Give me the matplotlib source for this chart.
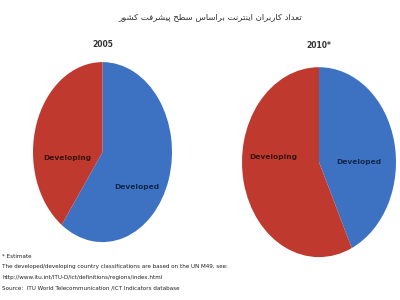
import matplotlib
matplotlib.use('Agg')
import matplotlib.pyplot as plt
from matplotlib import font_manager

# data
categories = ['Developed', 'Developing']
share_2005 = [60, 40]
share_2010 = [43, 57]
years = ['2005', '2010*']
title_fa = 'تعداد کاربران اینترنت براساس سطح پیشرفت کشور'
notes = [
    '* Estimate',
    'The developed/developing country classifications are based on the UN M49, see:',
    'http://www.itu.int/ITU-D/ict/definitions/regions/index.html',
    'Source:  ITU World Telecommunication /ICT Indicators database',
]

colors = ['#3d72c2', '#c0392f']
label_colors = ['#14284b', '#3a1410']

# matplotlib does not shape arabic script, so pick presentation forms by hand
FORMS = {
    'ا': ('\uFE8D', '\uFE8E', None, None),
    'ب': ('\uFE8F', '\uFE90', '\uFE91', '\uFE92'),
    'پ': ('\uFB56', '\uFB57', '\uFB58', '\uFB59'),
    'ت': ('\uFE95', '\uFE96', '\uFE97', '\uFE98'),
    'ح': ('\uFEA1', '\uFEA2', '\uFEA3', '\uFEA4'),
    'د': ('\uFEA9', '\uFEAA', None, None),
    'ر': ('\uFEAD', '\uFEAE', None, None),
    'س': ('\uFEB1', '\uFEB2', '\uFEB3', '\uFEB4'),
    'ش': ('\uFEB5', '\uFEB6', '\uFEB7', '\uFEB8'),
    'ط': ('\uFEC1', '\uFEC2', '\uFEC3', '\uFEC4'),
    'ع': ('\uFEC9', '\uFECA', '\uFECB', '\uFECC'),
    'ف': ('\uFED1', '\uFED2', '\uFED3', '\uFED4'),
    'ک': ('\uFB8E', '\uFB8F', '\uFB90', '\uFB91'),
    'ن': ('\uFEE5', '\uFEE6', '\uFEE7', '\uFEE8'),
    'و': ('\uFEED', '\uFEEE', None, None),
    'ی': ('\uFBFC', '\uFBFD', '\uFBFE', '\uFBFF'),
}


def joins_next(ch):
    return ch in FORMS and FORMS[ch][2] is not None


def shape(text):
    out = []
    for i, ch in enumerate(text):
        if ch not in FORMS:
            out.append(ch)
            continue
        prev = text[i - 1] if i > 0 else ''
        nxt = text[i + 1] if i + 1 < len(text) else ''
        p = joins_next(prev)
        n = joins_next(ch) and nxt in FORMS
        iso, fin, ini, med = FORMS[ch]
        if p and n:
            out.append(med)
        elif p:
            out.append(fin)
        elif n:
            out.append(ini)
        else:
            out.append(iso)
    return ''.join(reversed(out))


# narrow font for the in-pie labels if there is one
names = {f.name for f in font_manager.fontManager.ttflist}
narrow = 'Liberation Sans Narrow' if 'Liberation Sans Narrow' in names else 'DejaVu Sans'
label_size = 6.5 if narrow != 'DejaVu Sans' else 5.4

fig = plt.figure(figsize=(4, 3), dpi=100)
fig.patch.set_facecolor('white')

fig.text(0.525, 0.943, shape(title_fa), ha='center', va='center',
         fontsize=6.1, color='#333333', family='DejaVu Sans')

# axes boxes in figure fractions, pies are stretched to fill them
boxes = [[0.0825, 0.193, 0.3475, 0.600], [0.605, 0.143, 0.385, 0.633]]
shares = [share_2005, share_2010]
# label spots inside each pie (axes data units)
spots = [
    [(0.50, -0.39), (-0.51, -0.06)],
    [(0.52, 0.00), (-0.60, 0.05)],
]
title_y = [1.20, 1.23]

for box, vals, year, sp, ty in zip(boxes, shares, years, spots, title_y):
    ax = fig.add_axes(box)
    ax.pie(vals, colors=colors, startangle=90, counterclock=False,
           wedgeprops={'linewidth': 0})
    ax.set_aspect('auto')
    ax.set_xlim(-1, 1)
    ax.set_ylim(-1, 1)
    ax.axis('off')
    ax.text(0, ty, year, ha='center', va='center', fontsize=5.5,
            fontweight='bold', color='#333333')
    for (x, y), name, c in zip(sp, categories, label_colors):
        ax.text(x, y, name, ha='center', va='center', fontsize=label_size,
                fontweight='bold', color=c, family=narrow)

for i, line in enumerate(notes):
    fig.text(0.006, 1 - (256 + i * 10.7) / 300, line, ha='left', va='center',
             fontsize=4.05, color='#222222')

fig.savefig('out.png', dpi=100, facecolor='white')
